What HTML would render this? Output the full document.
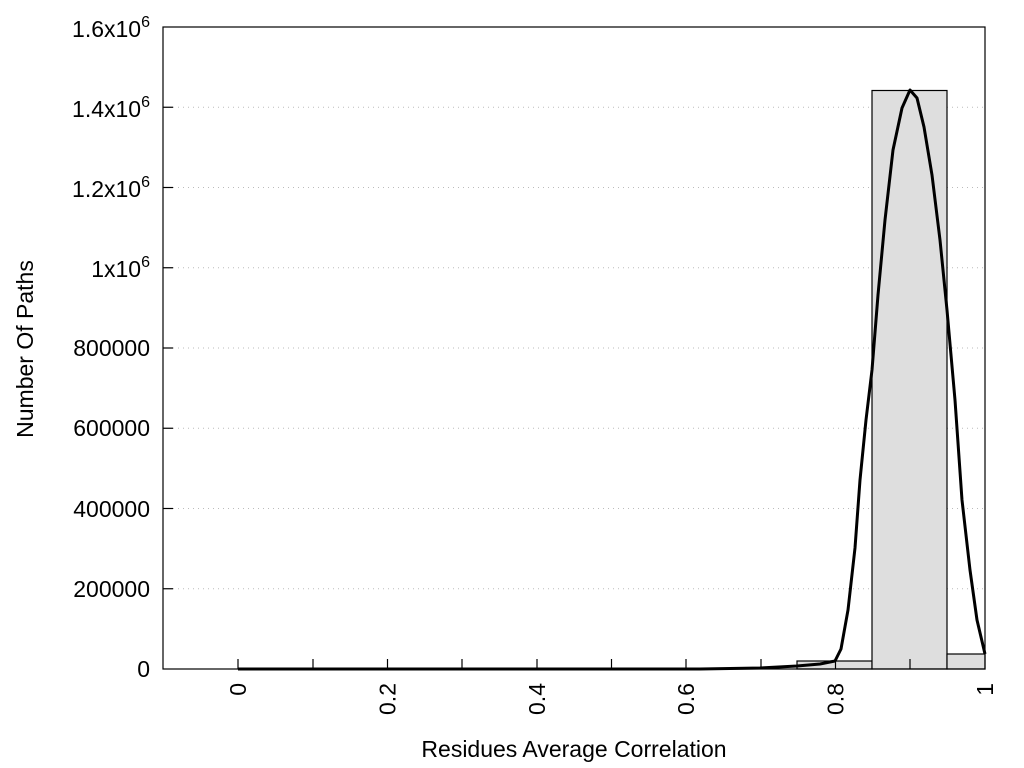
<!DOCTYPE html>
<html><head><meta charset="utf-8"><style>
html,body{margin:0;padding:0;background:#fff;}
svg{display:block;font-family:"Liberation Sans",Arial,sans-serif;}
</style></head><body>
<svg width="1024" height="768" viewBox="0 0 1024 768" xmlns="http://www.w3.org/2000/svg">
<g stroke="#bbb" stroke-width="1" stroke-dasharray="1,4">
<line x1="173" y1="107.25" x2="872" y2="107.25"/><line x1="947" y1="107.25" x2="985" y2="107.25"/>
<line x1="173" y1="187.5" x2="872" y2="187.5"/><line x1="947" y1="187.5" x2="985" y2="187.5"/>
<line x1="173" y1="267.75" x2="872" y2="267.75"/><line x1="947" y1="267.75" x2="985" y2="267.75"/>
<line x1="173" y1="348" x2="872" y2="348"/><line x1="947" y1="348" x2="985" y2="348"/>
<line x1="173" y1="428.25" x2="872" y2="428.25"/><line x1="947" y1="428.25" x2="985" y2="428.25"/>
<line x1="173" y1="508.5" x2="872" y2="508.5"/><line x1="947" y1="508.5" x2="985" y2="508.5"/>
<line x1="173" y1="588.75" x2="872" y2="588.75"/><line x1="947" y1="588.75" x2="985" y2="588.75"/>
</g>
<g fill="#dedede" stroke="#000" stroke-width="1.2">
<rect x="797" y="661" width="75" height="8"/>
<rect x="872" y="90.5" width="75" height="578.5"/>
<rect x="947" y="654" width="38" height="15"/>
</g>
<rect x="163" y="27" width="822" height="642" fill="none" stroke="#000" stroke-width="1.2"/>
<g stroke="#000" stroke-width="1.2">
<line x1="163" y1="107.25" x2="173" y2="107.25"/><line x1="163" y1="187.5" x2="173" y2="187.5"/>
<line x1="163" y1="267.75" x2="173" y2="267.75"/><line x1="163" y1="348" x2="173" y2="348"/>
<line x1="163" y1="428.25" x2="173" y2="428.25"/><line x1="163" y1="508.5" x2="173" y2="508.5"/>
<line x1="163" y1="588.75" x2="173" y2="588.75"/>
<line x1="238" y1="669" x2="238" y2="659"/><line x1="313" y1="669" x2="313" y2="659"/>
<line x1="387.5" y1="669" x2="387.5" y2="659"/><line x1="462" y1="669" x2="462" y2="659"/>
<line x1="537" y1="669" x2="537" y2="659"/><line x1="611.5" y1="669" x2="611.5" y2="659"/>
<line x1="686" y1="669" x2="686" y2="659"/><line x1="761" y1="669" x2="761" y2="659"/>
<line x1="835.5" y1="669" x2="835.5" y2="659"/><line x1="910" y1="669" x2="910" y2="659"/>
</g>
<polyline fill="none" stroke="#000" stroke-width="3" stroke-linejoin="round" points="238,669 700,669 760,668 797,666 820,664 835,661 841,649 848,610 855,548 860,480 866,420 872,370 878,295 885,220 893,150 902,108 910,90 917,98 924,127 932,175 940,240 947,310 955,400 962,500 970,570 977,620 985,654"/>
<g font-size="23" fill="#000" text-anchor="end">
<text x="150" y="37">1.6x10<tspan font-size="16" dy="-10">6</tspan></text>
<text x="150" y="117">1.4x10<tspan font-size="16" dy="-10">6</tspan></text>
<text x="150" y="197">1.2x10<tspan font-size="16" dy="-10">6</tspan></text>
<text x="150" y="277">1x10<tspan font-size="16" dy="-10">6</tspan></text>
<text x="150" y="356">800000</text>
<text x="150" y="436">600000</text>
<text x="150" y="517">400000</text>
<text x="150" y="597">200000</text>
<text x="150" y="677">0</text>
</g>
<g font-size="23" fill="#000" text-anchor="end">
<text transform="translate(246,683) rotate(-90)">0</text>
<text transform="translate(395.5,683) rotate(-90)">0.2</text>
<text transform="translate(545,683) rotate(-90)">0.4</text>
<text transform="translate(694,683) rotate(-90)">0.6</text>
<text transform="translate(843.5,683) rotate(-90)">0.8</text>
<text transform="translate(993,683) rotate(-90)">1</text>
</g>
<text x="574" y="757" font-size="23" text-anchor="middle">Residues Average Correlation</text>
<text transform="translate(33,349) rotate(-90)" font-size="23" text-anchor="middle">Number Of Paths</text>
</svg>
</body></html>
